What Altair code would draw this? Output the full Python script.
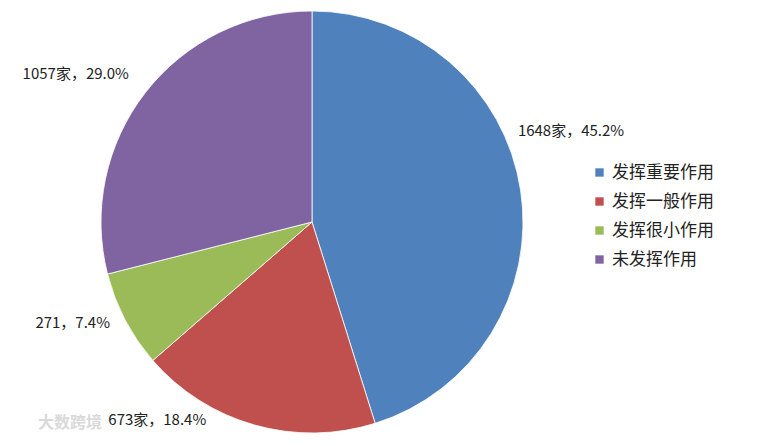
import altair as alt
import pandas as pd

categories = ["发挥重要作用", "发挥一般作用", "发挥很小作用", "未发挥作用"]
counts = [1648, 673, 271, 1057]
labels = ["1648家，45.2%", "673家，18.4%", "271，7.4%", "1057家，29.0%"]
colors = ["#4F81BD", "#C0504D", "#9BBB59", "#8064A2"]

df = pd.DataFrame({
    "cat": categories,
    "n": counts,
    "label": labels,
    "idx": list(range(len(categories))),
})

W, H = 748, 430
CX, CY, R = 304, 214, 211
FONT = "Noto Sans CJK SC"

color = alt.Color(
    "cat:N",
    scale=alt.Scale(domain=categories, range=colors),
    sort=categories,
    legend=alt.Legend(
        title=None,
        orient="none",
        legendX=583,
        legendY=156,
        symbolType="square",
        symbolSize=70,
        symbolStrokeWidth=0,
        labelFont=FONT,
        labelFontSize=17,
        labelColor="#222222",
        labelOffset=4,
        rowPadding=11,
        labelLimit=300,
    ),
)

base = alt.Chart(df).encode(
    theta=alt.Theta("n:Q", stack=True),
    order=alt.Order("idx:O"),
)

pie = base.mark_arc(radius=R, stroke="#ffffff", strokeWidth=0.8).encode(
    color=color, x=alt.value(CX), y=alt.value(CY)
)

offsets = {
    "发挥重要作用": (2, -52),
    "发挥一般作用": (-84, -52),
    "发挥很小作用": (-9, -20),
    "未发挥作用": (-31, 12),
}

text_layers = []
for cat, (dx, dy) in offsets.items():
    t = base.mark_text(
        radius=260, font=FONT, fontSize=15, color="#222222", dx=dx, dy=dy
    ).encode(
        text="label:N",
        x=alt.value(CX),
        y=alt.value(CY),
        opacity=alt.condition(alt.datum.cat == cat, alt.value(1), alt.value(0)),
    )
    text_layers.append(t)

watermark = alt.Chart(pd.DataFrame({"t": ["大数跨境"]})).mark_text(
    font=FONT, fontSize=16, fontWeight="bold", color="#d9d9d9", align="left"
).encode(text="t:N", x=alt.value(30), y=alt.value(415))

chart = alt.layer(pie, *text_layers, watermark).properties(
    width=W,
    height=H,
    autosize=alt.AutoSizeParams(type="none"),
    padding=0,
    background="#ffffff",
).configure_view(stroke=None)

chart.save("out.html", embed_options={"renderer": "svg", "actions": False})
